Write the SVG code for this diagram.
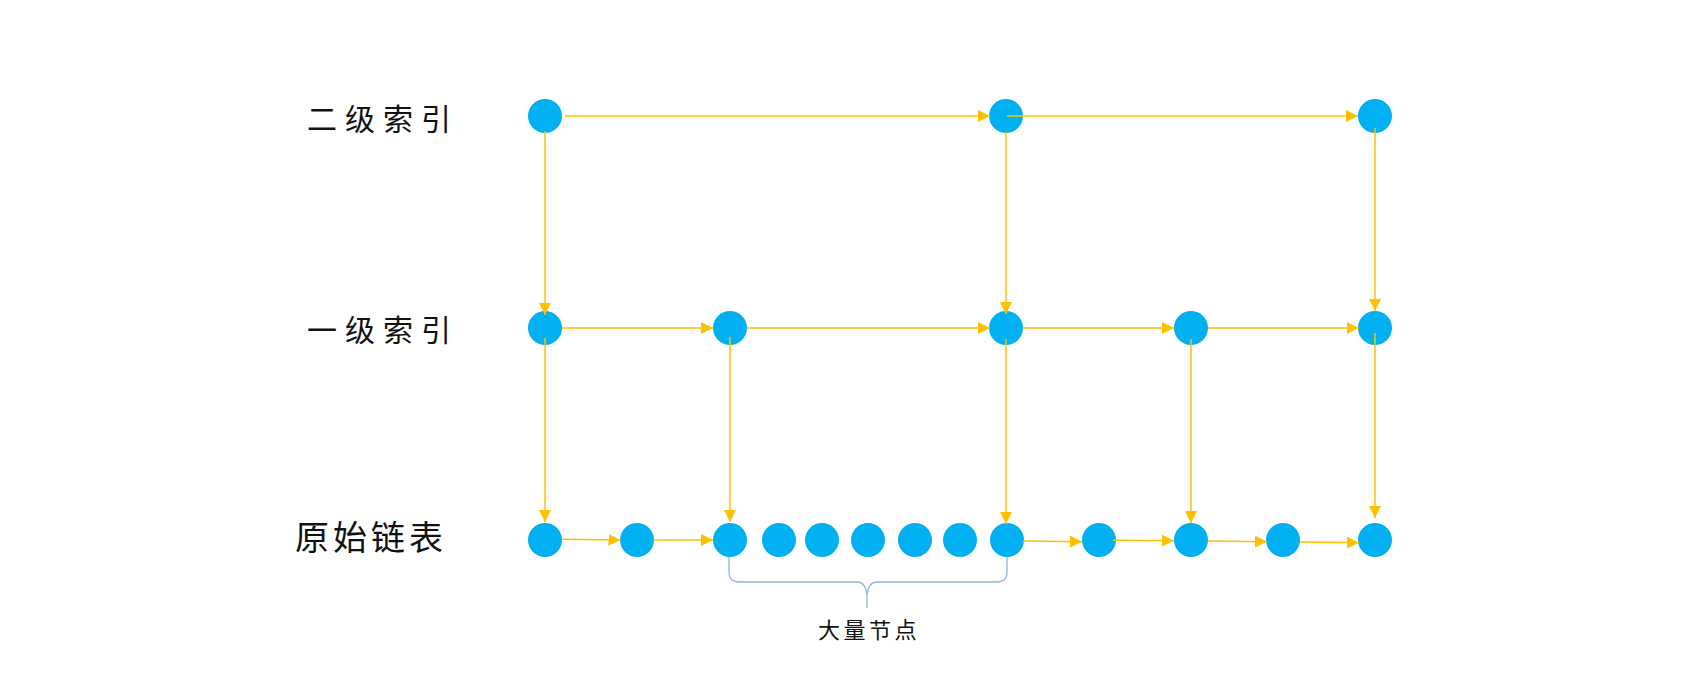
<svg xmlns="http://www.w3.org/2000/svg" width="1684" height="688" viewBox="0 0 1684 688">
<style>
.n{fill:#00B0F0}
.c line{stroke:#FFC000;stroke-width:1.5;marker-end:url(#ah)}
.lbl{font-family:"Noto Sans CJK SC","Noto Sans CJK JP",sans-serif;fill:#111}
.brace{fill:none;stroke:#8FB4E3;stroke-width:1.3}
</style>
<defs>
<marker id="ah" viewBox="0 0 12 12" refX="12" refY="6" markerWidth="12" markerHeight="12" markerUnits="userSpaceOnUse" orient="auto">
<path d="M0,0 L12,6 L0,12 z" fill="#FFC000"/>
</marker>
</defs>
<rect width="1684" height="688" fill="#fff"/>
<g id="labels">
<text class="lbl" x="307" y="130" font-size="30" letter-spacing="8">二级索引</text>
<text class="lbl" x="307" y="341" font-size="30" letter-spacing="8">一级索引</text>
<text class="lbl" x="295" y="550" font-size="34" letter-spacing="4">原始链表</text>
<text class="lbl" x="818" y="638" font-size="22" letter-spacing="3.5">大量节点</text>
</g>
<g id="nodes">
<g id="l2-1"><circle class="n" cx="545" cy="116" r="17"/></g>
<g id="l2-2"><circle class="n" cx="1006" cy="116" r="17"/></g>
<g id="l2-3"><circle class="n" cx="1375" cy="116" r="17"/></g>
<g id="l1-1"><circle class="n" cx="545" cy="328" r="17"/></g>
<g id="l1-2"><circle class="n" cx="730" cy="328" r="17"/></g>
<g id="l1-3"><circle class="n" cx="1006" cy="328" r="17"/></g>
<g id="l1-4"><circle class="n" cx="1191" cy="328" r="17"/></g>
<g id="l1-5"><circle class="n" cx="1375" cy="328" r="17"/></g>
<g id="r-1"><circle class="n" cx="545" cy="540" r="17"/></g>
<g id="r-2"><circle class="n" cx="637" cy="540" r="17"/></g>
<g id="r-3"><circle class="n" cx="730" cy="540" r="17"/></g>
<g id="r-4"><circle class="n" cx="779" cy="540" r="17"/></g>
<g id="r-5"><circle class="n" cx="822" cy="540" r="17"/></g>
<g id="r-6"><circle class="n" cx="868" cy="540" r="17"/></g>
<g id="r-7"><circle class="n" cx="915" cy="540" r="17"/></g>
<g id="r-8"><circle class="n" cx="960" cy="540" r="17"/></g>
<g id="r-9"><circle class="n" cx="1007" cy="540" r="17"/></g>
<g id="r-10"><circle class="n" cx="1099" cy="540" r="17"/></g>
<g id="r-11"><circle class="n" cx="1191" cy="540" r="17"/></g>
<g id="r-12"><circle class="n" cx="1283" cy="540" r="17"/></g>
<g id="r-13"><circle class="n" cx="1375" cy="540" r="17"/></g>
</g>
<g id="connectors" class="c">
<line x1="565" y1="116" x2="990" y2="116"/>
<line x1="1007" y1="116" x2="1358" y2="116"/>
<line x1="545" y1="131" x2="545" y2="315"/>
<line x1="1006" y1="132" x2="1006" y2="314"/>
<line x1="1375" y1="128" x2="1375" y2="311"/>
<line x1="562" y1="328" x2="713" y2="328"/>
<line x1="747" y1="328" x2="990" y2="328"/>
<line x1="1023" y1="328" x2="1174" y2="328"/>
<line x1="1208" y1="328" x2="1359" y2="328"/>
<line x1="545" y1="338" x2="545" y2="522"/>
<line x1="730" y1="337" x2="730" y2="522"/>
<line x1="1006" y1="339" x2="1006" y2="524"/>
<line x1="1191" y1="339" x2="1191" y2="523"/>
<line x1="1375" y1="333" x2="1375" y2="518"/>
<line x1="562" y1="539.3" x2="620.5" y2="540"/>
<line x1="654" y1="540" x2="713" y2="540"/>
<line x1="1023" y1="541" x2="1082" y2="541.7"/>
<line x1="1113" y1="540.3" x2="1174" y2="540.7"/>
<line x1="1208" y1="541" x2="1267" y2="541.7"/>
<line x1="1300" y1="542" x2="1359" y2="542.7"/>
</g>
<g id="brace">
<path class="brace" d="M729,557 L729,573 Q729,582 739,582 L857,582 Q866,582 867,596 L867,608 M867,596 Q868,582 877,582 L997,582 Q1007,582 1007,573 L1007,557"/>
</g>
</svg>
